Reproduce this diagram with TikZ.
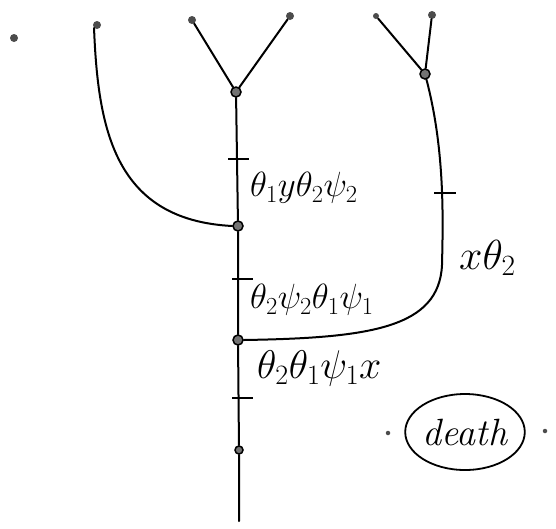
\RequirePackage{fix-cm}
\documentclass[tikz,border=0pt]{standalone}
\usetikzlibrary{shapes.geometric}
\begin{document}
\begin{tikzpicture}[x=1pt,y=-1pt,
  ln/.style={line width=2pt,line cap=round},
  leaf/.style={circle,fill=black!70,inner sep=0pt,minimum size=8pt},
  inner/.style={circle,draw=black,line width=1.5pt,fill=black!55,inner sep=0pt,minimum size=10pt},
  lab/.style={font=\fontsize{35}{39}\selectfont,inner sep=0pt,anchor=west},
  tick/.style={line width=1.8pt}]
\useasboundingbox (0,0) rectangle (556,528);
% leaves
\node[leaf] (l0) at (14,38) {};
\node[leaf] (l1) at (97,25) {};
\node[leaf] (l2) at (192,20) {};
\node[leaf] (l3) at (290,16) {};
\node[leaf,minimum size=6pt] (l4) at (376,16) {};
\node[leaf] (l5) at (432,15) {};
% internal nodes
\node[inner] (n1) at (236,92) {};
\node[inner] (n2) at (238,226) {};
\node[inner] (n3) at (238,340) {};
\node[inner,minimum size=8pt] (n4) at (239,450) {};
\node[inner] (r1) at (425,74) {};
\coordinate (bot) at (239,521);
% edges
\draw[ln] (l2) -- (n1);
\draw[ln] (l3) -- (n1);
\draw[ln] (l4) -- (r1);
\draw[ln] (l5) -- (r1);
\draw[ln] (n1) -- (n2) -- (n3) -- (n4) -- (bot);
\draw[ln] (l1.south west) .. controls (98,130) and (115,220) .. (n2.west);
\draw[ln] (r1) .. controls (445,150) and (443,220) .. (442,265)
  .. controls (439,328) and (370,338) .. (n3.east);
% ticks
\draw[tick] (228,159) -- (249,159);
\draw[tick] (232,279) -- (253,279);
\draw[tick] (232,398) -- (253,398);
\draw[tick] (434,193) -- (456,193);
% labels
\node[lab] (a) at (250,188) {$\theta_1 y\theta_2\psi_2$};
\node[lab] (b) at (250,300) {$\theta_2\psi_2\theta_1\psi_1$};
\node[lab,font=\fontsize{40}{44}\selectfont] (c) at (257,368) {$\theta_2\theta_1\psi_1 x$};
\node[lab,font=\fontsize{42}{46}\selectfont] (d) at (459,258) {$x\theta_2$};
\node[ellipse,draw,line width=1.8pt,minimum width=114pt,minimum height=76pt,inner sep=0pt,font=\fontsize{38}{42}\selectfont\itshape] (death) at (465,432) {death};
\node[leaf,minimum size=4.5pt] (p1) at (388,433) {};
\node[leaf,minimum size=4.5pt] (p2) at (545,431) {};
\end{tikzpicture}
\end{document}
